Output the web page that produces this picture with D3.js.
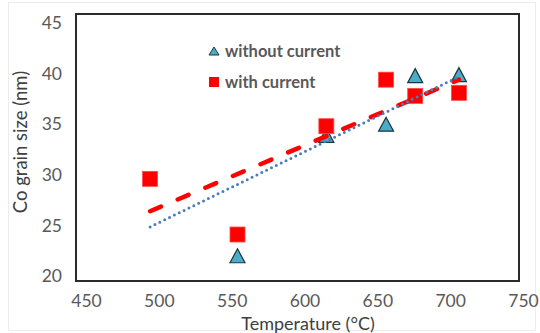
<!DOCTYPE html>
<html><head><meta charset="utf-8">
<script src="https://cdn.jsdelivr.net/npm/d3@7"></script>
<style>
body{margin:0;background:#fff}
svg{display:block}
text{font-family:Lato,"Open Sans",sans-serif}
</style>
</head><body>
<svg id="c" width="540" height="333"></svg>
<script>
// ---- data ----
const xTicks = [450, 500, 550, 600, 650, 700, 750];
const yTicks = [20, 25, 30, 35, 40, 45];
const tempWithout = [554, 615, 656, 676, 706];
const sizeWithout = [22.0, 33.9, 35.0, 39.8, 39.9];
const tempWith = [494, 554, 615, 656, 676, 706];
const sizeWith = [29.6, 24.1, 34.8, 39.4, 37.8, 38.1];
const trendWithoutT = [494, 706];
const trendWithoutS = [24.85, 39.7];
const trendWithT = [494, 706];
const trendWithS = [26.4, 39.4];
const seriesNames = ["without current", "with current"];

const svg = d3.select("#c");
const x = d3.scaleLinear().domain([450, 750]).range([86, 523]);
const y = d3.scaleLinear().domain([20, 45]).range([276, 23]);

// chart area border
svg.append("rect").attr("x", 8.5).attr("y", 2.5).attr("width", 527).attr("height", 328)
  .attr("fill", "none").attr("stroke", "#ececec").attr("stroke-width", 1);

// plot frame
const fx0 = x(450) - 10, fx1 = x(750) - 4, fy0 = y(45) - 9, fy1 = y(20) + 5;
svg.append("rect").attr("x", fx0).attr("y", fy0).attr("width", fx1 - fx0).attr("height", fy1 - fy0)
  .attr("fill", "none").attr("stroke", "#2b2b2b").attr("stroke-width", 2);

// axes (labels only)
const gx = svg.append("g").attr("transform", `translate(0,${fy1 + 10})`)
  .call(d3.axisBottom(x).tickValues(xTicks).tickSize(0).tickPadding(0));
gx.select(".domain").remove();
gx.selectAll("text").attr("font-size", 17.5).attr("fill", "#595959").attr("dy", "0.9em")
  .style("font-family", "Lato, sans-serif");

const gy = svg.append("g").attr("transform", `translate(62,0)`)
  .call(d3.axisLeft(y).tickValues(yTicks).tickSize(0).tickPadding(0));
gy.select(".domain").remove();
gy.selectAll("text").attr("font-size", 17.5).attr("fill", "#595959")
  .style("font-family", "Lato, sans-serif");

// axis titles
svg.append("text").attr("x", 308).attr("y", 329.5).attr("text-anchor", "middle")
  .attr("font-size", 18).attr("fill", "#404040").text("Temperature (°C)");
svg.append("text").attr("transform", "translate(27,142) rotate(-90)").attr("text-anchor", "middle")
  .attr("font-size", 18.5).attr("fill", "#404040").text("Co grain size (nm)");

const tri = (w, h) => `M0,${-h/2}L${w/2},${h/2}L${-w/2},${h/2}Z`;

// markers
svg.append("g").selectAll("path").data(tempWithout.map((t, i) => [t, sizeWithout[i]]))
  .join("path").attr("d", tri(15, 14))
  .attr("transform", d => `translate(${x(d[0])},${y(d[1])})`)
  .attr("fill", "#4bacc6").attr("stroke", "#1e3440").attr("stroke-width", 1.2)
  .attr("stroke-linejoin", "miter");

svg.append("g").selectAll("rect").data(tempWith.map((t, i) => [t, sizeWith[i]]))
  .join("rect").attr("x", d => x(d[0]) - 7.5).attr("y", d => y(d[1]) - 7.5)
  .attr("width", 15).attr("height", 15)
  .attr("fill", "#ff0000").attr("stroke", "#ff4a4a").attr("stroke-width", 0.8);

// trend lines
const line = d3.line().x(d => x(d[0])).y(d => y(d[1]));
svg.append("path").datum(trendWithT.map((t, i) => [t, trendWithS[i]]))
  .attr("d", line).attr("fill", "none").attr("stroke", "#ff0000").attr("stroke-width", 4.5)
  .attr("stroke-linecap", "round").attr("stroke-dasharray", "11.8,18.2");
svg.append("path").datum(trendWithoutT.map((t, i) => [t, trendWithoutS[i]]))
  .attr("d", line).attr("fill", "none").attr("stroke", "#4a7ebb").attr("stroke-width", 3)
  .attr("stroke-linecap", "round").attr("stroke-dasharray", "0,5.4");

// legend
const lg = svg.append("g");
lg.append("path").attr("d", tri(10, 8)).attr("transform", "translate(214,51)")
  .attr("fill", "#4bacc6").attr("stroke", "#1e3440").attr("stroke-width", 1);
lg.append("rect").attr("x", 209).attr("y", 77).attr("width", 10).attr("height", 10).attr("fill", "#ff0000");
lg.selectAll("text").data(seriesNames).join("text")
  .attr("x", 225).attr("y", (d, i) => 51 + i * 31).attr("dy", "0.35em")
  .attr("font-size", 16.5).attr("font-weight", "bold").attr("fill", "#595959").text(d => d);
</script>
</body></html>
